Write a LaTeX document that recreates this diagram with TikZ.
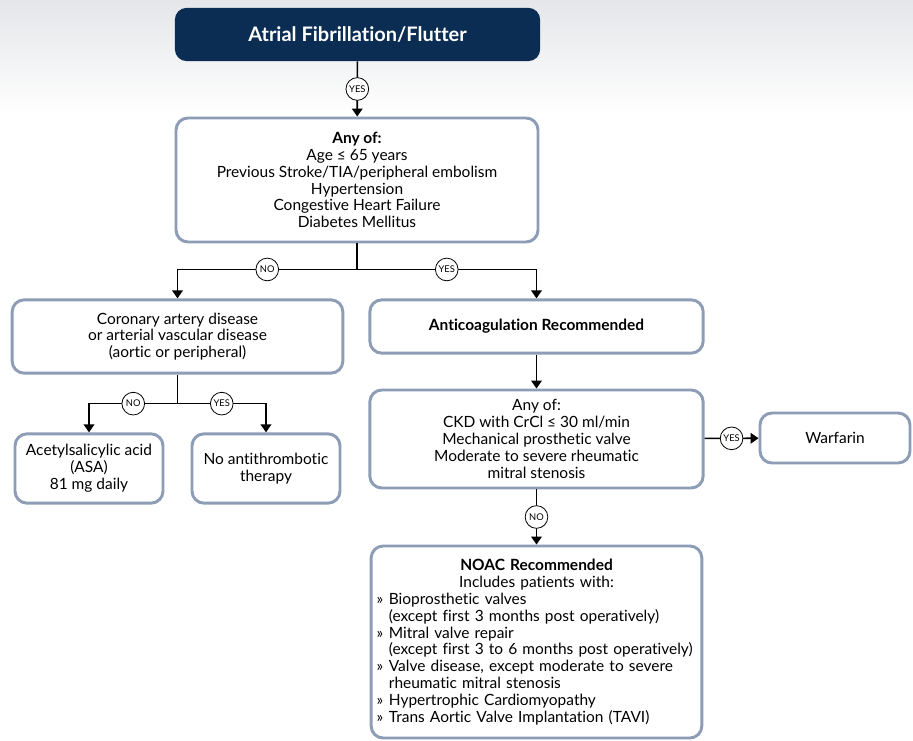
\documentclass[tikz,border=0pt]{standalone}
\usepackage{fontspec}
\setmainfont{Lato}[Ligatures=NoCommon]
\usetikzlibrary{arrows.meta}

\definecolor{navy}{HTML}{0B2D54}
\definecolor{edge}{HTML}{8D9DB6}
\definecolor{bgtop}{HTML}{E4E6E9}

\newcommand\bul{\par\makebox[0.8em][l]{»}}
\newcommand\cont{\\\hspace*{0.8em}}

\tikzset{
  box/.style={draw=edge, line width=2.2pt, rounded corners=9pt, fill=white,
    align=center, inner sep=3pt, font=\fontsize{11.6}{12.6}\selectfont},
  tag/.style={circle, draw, fill=white, line width=0.6pt, inner sep=0pt,
    minimum size=17pt, font=\fontsize{7}{8}\selectfont},
  arr/.style={-{Triangle[length=6pt,width=8pt]}, line width=1.2pt},
}

\begin{document}
\begin{tikzpicture}[x=0.75pt, y=-0.75pt]
  \fill[white] (0,0) rectangle (913,741);
  \shade[top color=bgtop, bottom color=white] (0,0) rectangle (913,115);
  \useasboundingbox (0,0) rectangle (913,741);

  % boxes
  \node[fill=navy, rounded corners=9pt, text=white, minimum width=274pt, minimum height=40pt,
    font=\bfseries\fontsize{15}{17}\selectfont] (title) at (357.5,34.5) {Atrial Fibrillation/Flutter};
  \node[box, minimum width=271.5pt, minimum height=93pt] (anyof) at (357,180)
    {\textbf{Any of:}\\Age ≤ 65 years\\Previous Stroke/TIA/peripheral embolism\\Hypertension\\Congestive Heart Failure\\Diabetes Mellitus};
  \node[box, minimum width=248pt, minimum height=55pt] (cad) at (177.5,336.5)
    {Coronary artery disease\\or arterial vascular disease\\(aortic or peripheral)};
  \node[box, minimum width=250pt, minimum height=40pt] (anticoag) at (536.5,326.5)
    {\textbf{Anticoagulation Recommended}};
  \node[box, minimum width=111pt, minimum height=52pt] (asa) at (89,468.5)
    {Acetylsalicylic acid\\(ASA)\\81 mg daily};
  \node[box, minimum width=111pt, minimum height=52pt] (none) at (266,468.5)
    {No antithrombotic\\therapy};
  \node[box, minimum width=250pt, minimum height=73.5pt] (crit) at (536.5,439)
    {Any of:\\CKD with CrCl ≤ 30 ml/min\\Mechanical prosthetic valve\\Moderate to severe rheumatic\\mitral stenosis};
  \node[box, minimum width=112.5pt, minimum height=37.5pt] (warf) at (835,438) {Warfarin};
  \node[box, minimum height=144pt, text width=240pt, align=left, inner sep=4pt] (noac) at (536.5,642)
    {{\centering\textbf{NOAC Recommended}\\Includes patients with:\par}
     \bul Bioprosthetic valves\cont(except first 3 months post operatively)
     \bul Mitral valve repair\cont(except first 3 to 6 months post operatively)
     \bul Valve disease, except moderate to severe\cont rheumatic mitral stenosis
     \bul Hypertrophic Cardiomyopathy
     \bul Trans Aortic Valve Implantation (TAVI)\par};

  % connectors
  \draw[arr] (title) -- node[tag] {YES} (anyof);
  \draw[line width=1.2pt] (anyof.south) -- ++(0,26) coordinate (split1);
  \draw[arr] (split1) -| node[tag, pos=0.25] {NO} (cad.north);
  \draw[arr] (split1) -| node[tag, pos=0.25] {YES} (anticoag.north);
  \draw[line width=1.2pt] (cad.south) -- ++(0,29) coordinate (split2);
  \draw[arr] (split2) -| node[tag, pos=0.25] {NO} (asa.north);
  \draw[arr] (split2) -| node[tag, pos=0.25] {YES} (none.north);
  \draw[arr] (anticoag) -- (crit);
  \draw[arr] (crit) -- node[tag] {YES} (warf);
  \draw[arr] (crit) -- node[tag] {NO} (noac);
\end{tikzpicture}
\end{document}
